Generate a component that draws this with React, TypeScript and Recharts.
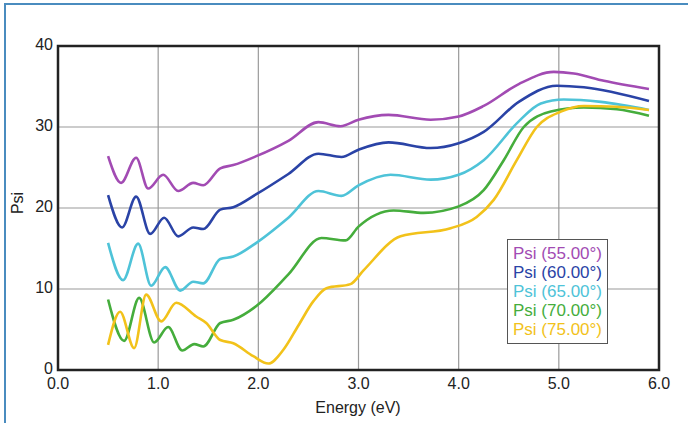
import { LineChart, Line, XAxis, YAxis, CartesianGrid, ReferenceArea } from "recharts";

// energy (eV) and Psi values for each angle of incidence
const e55 = [0.5, 0.63, 0.78, 0.9, 1.05, 1.2, 1.35, 1.45, 1.62, 1.75, 1.98, 2.3, 2.6, 2.82, 3.0, 3.3, 3.72, 4.0, 4.25, 4.6, 4.95, 5.15, 5.45, 5.9];
const psi55 = [26.4, 23.1, 26.2, 22.4, 24.1, 22.1, 23.1, 22.8, 24.9, 25.3, 26.4, 28.3, 30.6, 30.1, 30.9, 31.5, 30.9, 31.3, 32.6, 35.3, 36.8, 36.6, 35.7, 34.7];

const e60 = [0.5, 0.64, 0.78, 0.92, 1.06, 1.2, 1.35, 1.45, 1.62, 1.75, 1.98, 2.3, 2.6, 2.83, 3.0, 3.3, 3.72, 4.0, 4.25, 4.6, 4.98, 5.25, 5.9];
const psi60 = [21.6, 17.6, 21.4, 16.8, 18.8, 16.5, 17.6, 17.4, 19.8, 20.1, 21.7, 24.2, 26.7, 26.3, 27.2, 28.1, 27.4, 28.0, 29.4, 33.1, 35.1, 34.9, 33.2];

const e65 = [0.5, 0.65, 0.8, 0.93, 1.07, 1.22, 1.35, 1.45, 1.62, 1.75, 1.98, 2.3, 2.6, 2.83, 3.0, 3.32, 3.72, 4.0, 4.25, 4.6, 4.82, 5.05, 5.42, 5.9];
const psi65 = [15.7, 11.1, 15.6, 10.4, 12.7, 9.8, 10.9, 10.7, 13.7, 14.0, 15.7, 18.8, 22.1, 21.5, 22.8, 24.1, 23.5, 24.1, 25.9, 30.7, 32.9, 33.4, 33.1, 32.1];

const e70 = [0.5, 0.66, 0.81, 0.96, 1.1, 1.24, 1.36, 1.45, 1.62, 1.75, 1.98, 2.3, 2.63, 2.87, 3.0, 3.35, 3.65, 4.0, 4.25, 4.45, 4.65, 4.92, 5.25, 5.58, 5.9];
const psi70 = [8.7, 3.6, 8.9, 3.4, 5.3, 2.4, 3.2, 2.9, 5.8, 6.2, 7.9, 11.8, 16.3, 16.0, 17.7, 19.7, 19.4, 20.2, 22.2, 25.9, 30.0, 31.9, 32.4, 32.2, 31.4];

const e75 = [0.5, 0.62, 0.76, 0.88, 1.03, 1.18, 1.38, 1.48, 1.62, 1.75, 1.95, 2.1, 2.25, 2.4, 2.55, 2.68, 2.92, 3.05, 3.42, 3.92, 4.18, 4.35, 4.58, 4.78, 5.02, 5.25, 5.58, 5.9];
const psi75 = [3.1, 7.2, 2.7, 9.3, 6.0, 8.3, 6.6, 5.8, 3.7, 3.3, 1.7, 0.8, 2.5, 5.5, 8.5, 10.1, 10.6, 12.3, 16.5, 17.5, 18.9, 21.0, 25.9, 30.0, 31.9, 32.6, 32.5, 32.1];

const xTicks = [0, 1, 2, 3, 4, 5, 6];
const yTicks = [0, 10, 20, 30, 40];

const toRows = (xs: number[], ys: number[]) => xs.map((e, i) => ({ e, psi: ys[i] }));

const series = [
  { name: "Psi (55.00°)", color: "#a24bb3", data: toRows(e55, psi55) },
  { name: "Psi (60.00°)", color: "#2a43a6", data: toRows(e60, psi60) },
  { name: "Psi (65.00°)", color: "#4ec3d8", data: toRows(e65, psi65) },
  { name: "Psi (70.00°)", color: "#45ad3c", data: toRows(e70, psi70) },
  { name: "Psi (75.00°)", color: "#f2c21a", data: toRows(e75, psi75) },
];

const font = "'Liberation Sans', Arial, sans-serif";

export default function App() {
  return (
    <div style={{ position: "absolute", left: 0, top: 0, width: 688, height: 423, background: "#fff" }}>
      <div
        style={{
          position: "absolute",
          left: 4,
          top: 3,
          right: 0,
          bottom: 0,
          borderTop: "2px solid #4a8cbf",
          borderLeft: "2px solid #4a8cbf",
        }}
      />
      <LineChart width={688} height={423} margin={{ top: 46, right: 29, bottom: 23, left: 18 }}>
        <CartesianGrid stroke="#9a9a9a" strokeWidth={1.2} />
        <XAxis
          dataKey="e"
          type="number"
          domain={[0, 6]}
          ticks={xTicks}
          tickFormatter={(v: number) => v.toFixed(1)}
          axisLine={false}
          tickLine={false}
          tickSize={4}
          tickMargin={4}
          height={30}
          tick={{ fill: "#222", fontSize: 16, fontFamily: font }}
          allowDataOverflow
        />
        <YAxis
          type="number"
          domain={[0, 40]}
          ticks={yTicks}
          axisLine={false}
          tickLine={false}
          tickSize={3}
          tickMargin={2}
          width={40}
          tick={{ fill: "#222", fontSize: 16, fontFamily: font, dy: -2 }}
          allowDataOverflow
        />
        <ReferenceArea x1={0} x2={6} y1={0} y2={40} fill="none" stroke="#222" strokeWidth={2.5} ifOverflow="visible" />
        {series.map((s) => (
          <Line
            key={s.name}
            data={s.data}
            dataKey="psi"
            name={s.name}
            type="monotone"
            stroke={s.color}
            strokeWidth={2.6}
            dot={false}
            isAnimationActive={false}
          />
        ))}
      </LineChart>
      <div
        style={{
          position: "absolute",
          left: 507,
          top: 239,
          width: 94,
          border: "1.5px solid #555",
          background: "#fff",
          padding: "4px 0 4px 5px",
          fontFamily: font,
          fontSize: 17,
          lineHeight: "19px",
        }}
      >
        {series.map((s) => (
          <div key={s.name} style={{ color: s.color, whiteSpace: "nowrap" }}>
            {s.name}
          </div>
        ))}
      </div>
      <div
        style={{
          position: "absolute",
          left: 358,
          top: 408,
          transform: "translate(-50%, -50%)",
          fontFamily: font,
          fontSize: 16,
          color: "#222",
          whiteSpace: "nowrap",
        }}
      >
        Energy (eV)
      </div>
      <div
        style={{
          position: "absolute",
          left: 18,
          top: 203,
          transform: "translate(-50%, -50%) rotate(-90deg)",
          fontFamily: font,
          fontSize: 16,
          color: "#222",
        }}
      >
        Psi
      </div>
    </div>
  );
}
